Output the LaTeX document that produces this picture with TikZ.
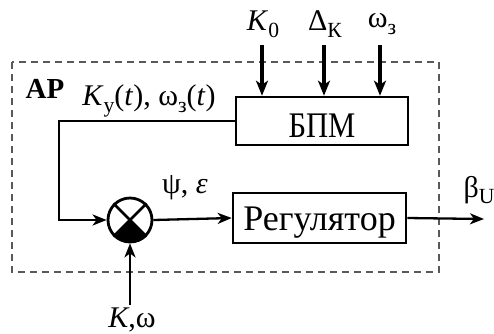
\documentclass[tikz,border=0pt]{standalone}
\usepackage{fontspec}
\usepackage{graphicx}
\setmainfont{Liberation Serif}
\usetikzlibrary{arrows.meta}
\newcommand\mysub[1]{\raisebox{-0.22em}{\scalebox{0.72}{#1}}}
\begin{document}
\begin{tikzpicture}[x=1pt,y=-1pt,
  blk/.style={draw, line width=2.6pt, inner sep=0pt, font=\fontsize{36}{40}\selectfont},
  lbl/.style={inner sep=0pt, font=\fontsize{30}{32}\selectfont},
  conn/.style={line width=2.3pt, -{Stealth[length=14pt,width=11pt,inset=4pt]}},
  thk/.style={line width=4pt, -{Stealth[length=15pt,width=12pt,inset=4pt]}},
  frame/.style={line width=2pt, draw=black!65, dash pattern=on 7pt off 5pt}]
\useasboundingbox (0,0) rectangle (494,333);
\draw[frame] (12,62) rectangle (439,272);
\node[lbl, font=\fontsize{29}{30}\selectfont\bfseries] (ap) at (45,89) {АР};
\node[blk, minimum width=172pt, minimum height=48pt, text height=32pt, text depth=0pt] (bpm) at (322,121) {\scalebox{0.85}[1]{БПМ}};
\node[blk, minimum width=173pt, minimum height=50pt, text height=25pt, text depth=0pt] (reg) at (319.5,218) {Регулятор};
\node[circle, draw, line width=2.8pt, minimum size=44pt, inner sep=0pt] (sum) at (130,220) {};
\fill (sum.center) -- (sum.-45) arc[start angle=-45, end angle=-135, radius=22pt] -- cycle;
\draw[line width=2.6pt] (sum.45) -- (sum.-135) (sum.135) -- (sum.-45);
\node[lbl] (ky) at (149,101) {\textit{K}\mysub{у}(\textit{t}), ω\mysub{з}(\textit{t})};
\node[lbl] (k0) at (263,24) {\textit{K}\mysub{0}};
\node[lbl] (dk) at (325,24) {Δ\mysub{К}};
\node[lbl] (w3) at (382,24) {ω\mysub{з}};
\node[lbl] (pe) at (185,188) {ψ, \textit{ε}};
\node[lbl] (bu) at (479,190) {β\mysub{U}};
\node[lbl] (kw) at (132,320) {\textit{K},ω};
\coordinate (c0) at (262,45);
\coordinate (c1) at (324,45);
\coordinate (c2) at (380,45);
\coordinate (cin) at (130,305);
\coordinate (cout) at (484,219);
\draw[thk] (c0) -- (c0 |- bpm.north);
\draw[thk] (c1) -- (c1 |- bpm.north);
\draw[thk] (c2) -- (c2 |- bpm.north);
\draw[conn] (bpm.west) -- ++(-176,0) |- (sum.west);
\draw[conn] (sum.east) -- (reg.west);
\draw[conn] (reg.east) -- (cout);
\draw[conn] (cin) -- (sum.south);
\end{tikzpicture}
\end{document}
